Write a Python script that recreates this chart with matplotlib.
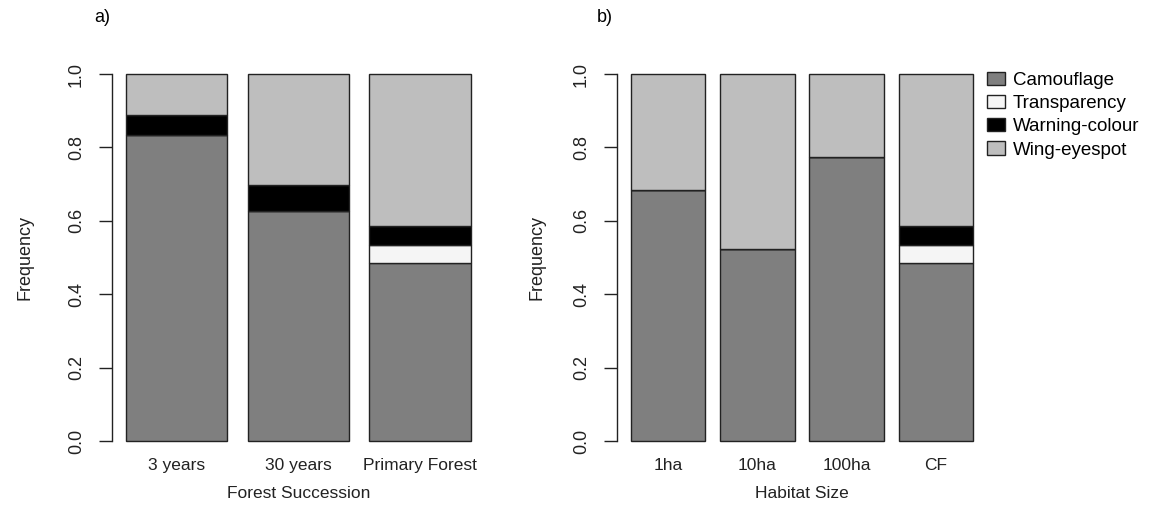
import numpy as np
from matplotlib import pyplot as plt

plt.rcParams['font.family'] = ['Liberation Sans', 'DejaVu Sans']

# Data
traits = ['Camouflage', 'Transparency', 'Warning-colour', 'Wing-eyespot']
trait_colors = ['#7f7f7f', '#f5f5f5', '#000000', '#bebebe']

succession_labels = ['3 years', '30 years', 'Primary Forest']
camo_succ = [0.835, 0.627, 0.486]
transp_succ = [0.0, 0.0, 0.048]
warn_succ = [0.053, 0.071, 0.052]
eyespot_succ = [0.112, 0.302, 0.414]

habitat_labels = ['1ha', '10ha', '100ha', 'CF']
camo_hab = [0.683, 0.522, 0.773, 0.486]
transp_hab = [0.0, 0.0, 0.0, 0.048]
warn_hab = [0.0, 0.0, 0.0, 0.052]
eyespot_hab = [0.317, 0.478, 0.227, 0.414]

y_ticks = [0.0, 0.2, 0.4, 0.6, 0.8, 1.0]

W, H = 1151, 508
fig = plt.figure(figsize=(W / 100, H / 100), dpi=100)
ink = '#222222'


def stacked_panel(ax, labels, series, xlabel, ylabel_pad):
    n = len(labels)
    pos = 0.7 + 1.2 * np.arange(n)
    bottom = np.zeros(n)
    handles = []
    for vals, col, name in zip(series, trait_colors, traits):
        vals = np.array(vals)
        b = ax.bar(pos, vals, width=1.0, bottom=bottom, color=col,
                   edgecolor=ink, linewidth=1.0, label=name)
        handles.append(b)
        bottom += vals
    # R style: 4% extension of the bar range
    lo, hi = 0.2, 1.2 * n
    ext = 0.04 * (hi - lo)
    ax.set_xlim(lo - ext, hi + ext)
    ax.set_ylim(-0.04, 1.04)
    for s in ['top', 'right', 'bottom']:
        ax.spines[s].set_visible(False)
    ax.spines['left'].set_bounds(0, 1)
    ax.spines['left'].set_linewidth(1.0)
    ax.spines['left'].set_color(ink)
    ax.set_yticks(y_ticks, ['%.1f' % t for t in y_ticks], rotation=90, va='center')
    ax.tick_params(axis='y', length=9.5, width=1.0, pad=10, labelsize=13, colors=ink)
    ax.set_xticks(pos, labels)
    ax.tick_params(axis='x', length=0, pad=2, labelsize=12.5, colors=ink)
    ax.set_ylabel('Frequency', fontsize=13, color=ink, labelpad=ylabel_pad)
    ax.set_xlabel(xlabel, fontsize=12.5, color=ink, labelpad=9)
    return handles


ax1 = fig.add_axes([112 / W, 0.103, 372.5 / W, 0.780])
stacked_panel(ax1, succession_labels,
              [camo_succ, transp_succ, warn_succ, eyespot_succ], 'Forest Succession', 25)

ax2 = fig.add_axes([617 / W, 0.103, 370 / W, 0.780])
handles = stacked_panel(ax2, habitat_labels,
                        [camo_hab, transp_hab, warn_hab, eyespot_hab], 'Habitat Size', 20)

fig.legend(handles, traits, loc='upper left', bbox_to_anchor=(979 / W, 1 - 64 / H),
           frameon=False, fontsize=13.5, handlelength=1.0, handleheight=0.7,
           handletextpad=0.4, labelspacing=0.33, borderaxespad=0)

fig.text(94 / W, 1 - 18 / H, 'a)', fontsize=13, va='center')
fig.text(597 / W, 1 - 18 / H, 'b)', fontsize=13, va='center')

plt.savefig('out.png', dpi=100)
